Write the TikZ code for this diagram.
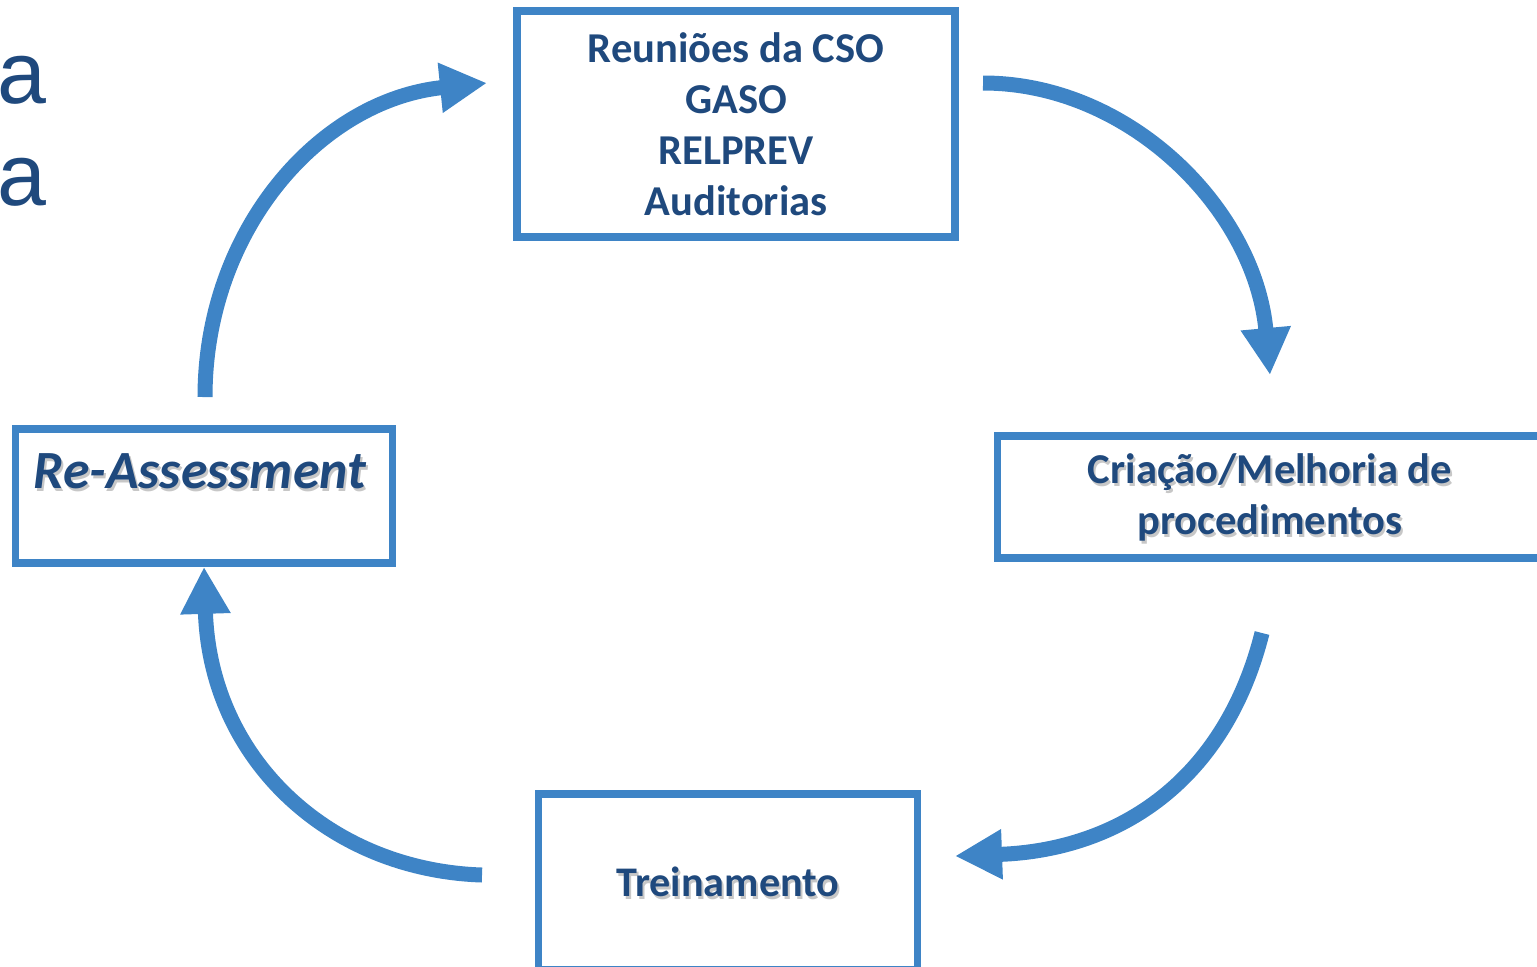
\documentclass[tikz,border=0pt]{standalone}
\usepackage{fontspec}
\setmainfont{Carlito}
\newfontfamily\arialfont{Liberation Sans}
\usetikzlibrary{arrows.meta}
\definecolor{boxblue}{HTML}{3E84C6}
\definecolor{txtblue}{HTML}{1F497D}

\begin{document}
\begin{tikzpicture}[x=0.01cm, y=-0.01cm,
    box/.style={draw=boxblue, line width=0.075cm, inner sep=0pt},
    txt/.style={text=txtblue, align=center},
    shd/.style={text=black!22, align=center},
    cyc/.style={draw=boxblue, line width=0.15cm, -{Triangle[length=0.47cm, width=0.47cm]}}]
      \useasboundingbox (0,0) rectangle (1537,966);
      \clip (0,0) rectangle (1537,966);

      \node[txt, anchor=base west, inner sep=0pt, font=\arialfont\fontsize{25}{25}\selectfont] (bga) at (-3,103) {a};
      \node[txt, anchor=base west, inner sep=0pt, font=\arialfont\fontsize{25}{25}\selectfont] (bgb) at (-3,205) {a};

      \node[box, txt, minimum width=4.38cm, minimum height=2.26cm, font=\fontsize{12.1}{14.5}\selectfont\bfseries] (cso) at (736,124) {Reuniões da CSO\\GASO\\RELPREV\\Auditorias};

      \node[box, minimum width=3.77cm, minimum height=1.34cm] (reassess) at (204,496) {};
      \node[shd, anchor=base, font=\fontsize{15.3}{17}\selectfont\bfseries\itshape] (reassessshd) at (202,491) {Re-Assessment};
      \node[txt, anchor=base, font=\fontsize{15.3}{17}\selectfont\bfseries\itshape] (reassesstxt) at (200,488) {Re-Assessment};

      \node[shd, font=\fontsize{12.1}{14.5}\selectfont\bfseries] (procshd) at (1272,500) {Criação/Melhoria de\\procedimentos};
      \node[box, txt, minimum width=5.45cm, minimum height=1.22cm, font=\fontsize{12.1}{14.5}\selectfont\bfseries] (proc) at (1270,497) {Criação/Melhoria de\\procedimentos};

      \node[shd, font=\fontsize{12}{14.5}\selectfont\bfseries] (treinoshd) at (730,885) {Treinamento};
      \node[box, txt, minimum width=3.79cm, minimum height=1.76cm, font=\fontsize{12}{14.5}\selectfont\bfseries] (treino) at (728,882) {Treinamento};

      \coordinate (s1) at (205,397);
      \coordinate (e1) at (487,83);
      \coordinate (s2) at (983,83);
      \coordinate (e2) at (1270,375);
      \coordinate (s3) at (1262,633);
      \coordinate (e3) at (955,856);
      \coordinate (s4) at (482,875);

      \draw[cyc] (s1) .. controls (205,230) and (320,100) .. (e1);
      \draw[cyc] (s2) .. controls (1130,83) and (1255,210) .. (e2);
      \draw[cyc] (s3) .. controls (1225,780) and (1120,850) .. (e3);
      \draw[cyc] (s4) .. controls (330,870) and (210,760) .. (reassess.south);
    \end{tikzpicture}
\end{document}
